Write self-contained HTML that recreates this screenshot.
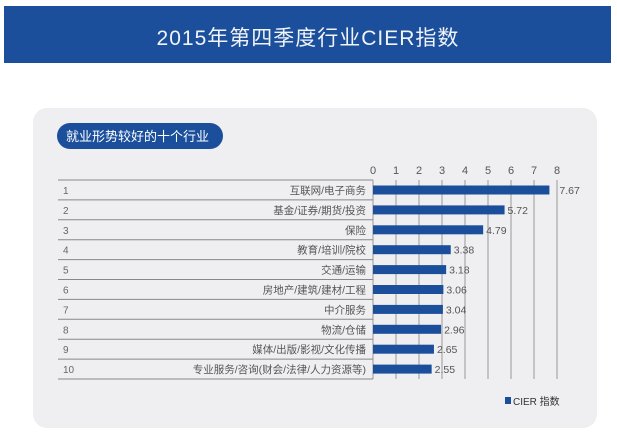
<!DOCTYPE html>
<html><head><meta charset="utf-8"><style>
body{margin:0;background:#fff;width:617px;height:440px;overflow:hidden;font-family:"Liberation Sans","Noto Sans CJK SC",sans-serif}
</style></head><body>
<svg width="617" height="440" font-family="Liberation Sans, Noto Sans CJK SC, sans-serif">
<rect x="4" y="6" width="607" height="57" fill="#1b4f9c"/>
<text x="308" y="45" font-size="21" fill="#f0f3f8" text-anchor="middle" letter-spacing="1">2015年第四季度行业CIER指数</text>
<rect x="33" y="108" width="564" height="320" rx="14" fill="#efeff1"/>
<rect x="57" y="123" width="166" height="26" rx="13" fill="#1b4f9c"/>
<text x="66" y="141" font-size="13" fill="#fff">就业形势较好的十个行业</text>
<g id="g"></g>
<rect x="505" y="397" width="6" height="7" fill="#1b4f9c"/>
<text x="513" y="405" font-size="10" fill="#333">CIER 指数</text>
</svg>
<script>
const categories=["互联网/电子商务","基金/证券/期货/投资","保险","教育/培训/院校","交通/运输","房地产/建筑/建材/工程","中介服务","物流/仓储","媒体/出版/影视/文化传播","专业服务/咨询(财会/法律/人力资源等)"];
const values=[7.67,5.72,4.79,3.38,3.18,3.06,3.04,2.96,2.65,2.55];
const ticks=[0,1,2,3,4,5,6,7,8];
const g=document.getElementById('g');const NS='http://www.w3.org/2000/svg';
const x=v=>373+v*23;const rowTop=i=>180+i*19.9;
function el(t,a,txt){const e=document.createElementNS(NS,t);for(const k in a)e.setAttribute(k,a[k]);if(txt!=null)e.textContent=txt;g.appendChild(e);return e;}
ticks.forEach(t=>{
const l=el('line',{x1:x(t),x2:x(t),y1:180,y2:379,stroke:'#999','stroke-width':1});


const tx=el('text',{x:x(t),y:174,'font-size':11,fill:'#555','text-anchor':'middle'},String(t));


});
categories.forEach((c,i)=>{
const top=rowTop(i),cy=top+10;
const ln=el('line',{x1:58,x2:373,y1:top+19.9,y2:top+19.9,stroke:'#888','stroke-width':1});


if(i==0){const l0=el('line',{x1:58,x2:373,y1:top,y2:top,stroke:'#888','stroke-width':1});}
const r=el('text',{x:63,y:cy+4,'font-size':10,fill:'#666'},String(i+1));


const n=el('text',{x:366,y:cy+4,'font-size':10.5,fill:'#555','text-anchor':'end'},c);


const b=el('rect',{x:x(0),y:cy-4.5,width:x(values[i])-x(0),height:9,fill:'#1b4f9c'});


const v=el('text',{x:x(values[i])+ (i==0?10:3),y:cy+4,'font-size':10.5,fill:'#555'},values[i].toFixed(2));


});
</script>
</body></html>
